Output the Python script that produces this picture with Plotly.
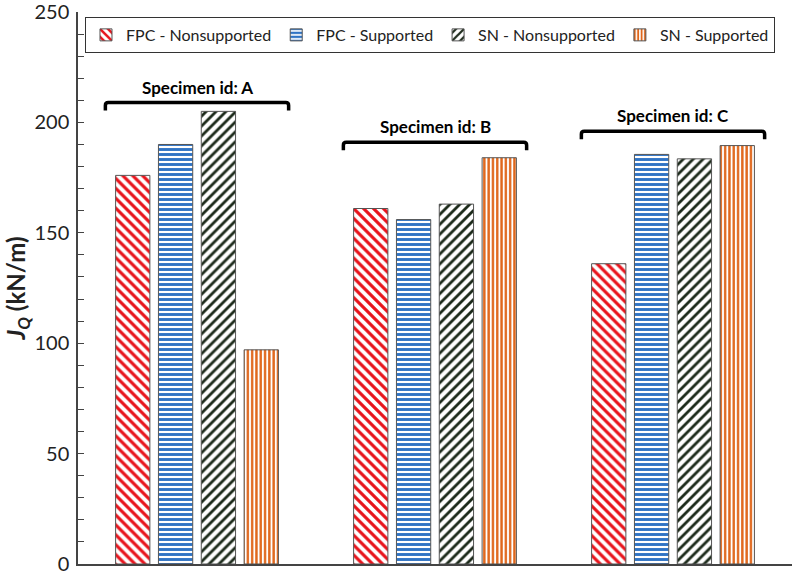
import plotly.graph_objects as go

groups = ["A", "B", "C"]
series_names = ["FPC - Nonsupported", "FPC - Supported", "SN - Nonsupported", "SN - Supported"]
fpc_nonsupported = [176, 161, 136]
fpc_supported = [190, 156, 185.5]
sn_nonsupported = [205, 163, 183.5]
sn_supported = [97, 184, 189.5]
bracket_levels = [209, 191, 196]
y_ticks = [0, 50, 100, 150, 200, 250]

values = [fpc_nonsupported, fpc_supported, sn_nonsupported, sn_supported]
styles = [
    dict(fg="#e8141c", shape="\\", size=7, sol=0.45),
    dict(fg="#2f73c4", shape="-", size=5, sol=0.58),
    dict(fg="#1c2a1a", shape="/", size=7, sol=0.4),
    dict(fg="#e0661a", shape="|", size=4.3, sol=0.55),
]

FONT = "Lato"
xpos = list(range(len(groups)))
fig = go.Figure()
for name, vals, st in zip(series_names, values, styles):
    fig.add_trace(go.Bar(
        x=xpos, y=vals, name=name,
        marker=dict(color="white",
                    line=dict(color="#555555", width=1),
                    pattern=dict(shape=st["shape"], fgcolor=st["fg"], bgcolor="white", fgopacity=1,
                                 size=st["size"], solidity=st["sol"], fillmode="replace")),
    ))

half = 0.385
drop = 3.6
rx, ry = 0.012, 1.3
for xc, lvl, g in zip(xpos, bracket_levels, groups):
    x0, x1 = xc - half, xc + half
    path = (f"M {x0},{lvl-drop} L {x0},{lvl-ry} Q {x0},{lvl} {x0+rx},{lvl} "
            f"L {x1-rx},{lvl} Q {x1},{lvl} {x1},{lvl-ry} L {x1},{lvl-drop}")
    fig.add_shape(type="path", xref="x", yref="y", path=path,
                  line=dict(color="black", width=3.5))
    fig.add_annotation(x=xc, y=lvl, xref="x", yref="y", text=f"<b>Specimen id: {g}</b>",
                       showarrow=False, yanchor="bottom", yshift=3,
                       font=dict(size=17, color="black", family=FONT))

fig.update_layout(
    width=795, height=575,
    margin=dict(l=78, r=3, t=12, b=11),
    paper_bgcolor="white", plot_bgcolor="white",
    barmode="group", bargap=0.28, bargroupgap=0.2,
    font=dict(family=FONT, color="#222222", size=17),
    legend=dict(orientation="h", x=0.0098, y=0.991, xanchor="left", yanchor="top",
                bordercolor="#333333", borderwidth=1, bgcolor="white",
                font=dict(size=16, color="#222222", family=FONT), itemwidth=30,
                entrywidth=0),
    showlegend=True,
)
fig.update_xaxes(range=[-0.5, 2.5], showticklabels=False, ticks="", showgrid=False,
                 zeroline=False, showline=True, linecolor="#444444", linewidth=1.5)
fig.update_yaxes(range=[0, 250], tickvals=y_ticks, ticks="inside", ticklen=6, tickcolor="#444444",
                 minor=dict(dtick=10, ticks="inside", ticklen=6, tickcolor="#444444"),
                 showgrid=False, zeroline=False, showline=True, linecolor="#444444", linewidth=1.5,
                 tickfont=dict(size=20, color="#222222"), automargin=False, ticklabeloverflow="allow",
                 ticklabelstandoff=3,
                 title=dict(text="<b><i>J<sub>Q</sub></i> (kN/m)</b>", font=dict(size=24, color="#222222"), standoff=0))

fig.write_html("out.html", config={"displayModeBar": False},
               post_script="document.body.style.margin='0px';")
